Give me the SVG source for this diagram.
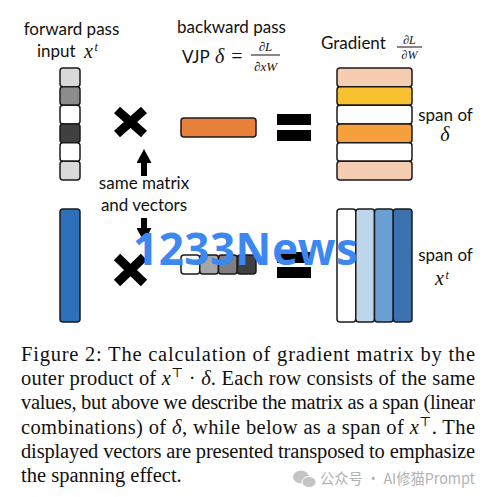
<svg xmlns="http://www.w3.org/2000/svg" width="490" height="497" viewBox="0 0 490 497">
<style>
.lbl{font-family:Lato,"Liberation Sans",sans-serif;font-size:17px;fill:#111}
.math{font-family:"Liberation Serif","DejaVu Serif",serif;font-style:italic;fill:#111}
.cell{stroke:#1a1a1a;stroke-width:1.5}
.cap{font-family:"Liberation Serif","DejaVu Serif",serif;font-size:20.5px;fill:#111}
.bar{fill:#000}
.arr{stroke:#000;stroke-width:6;fill:none}
</style>
<defs>
<marker id="head" viewBox="0 0 14 15" refX="0" refY="7.5" markerWidth="14" markerHeight="15" markerUnits="userSpaceOnUse" orient="auto">
<path d="M0,0 L14,7.5 L0,15 Z" fill="#000"/>
</marker>
</defs>
<rect width="490" height="497" fill="#fff"/>

<g id="forward-label">
<text class="lbl" x="71.5" y="35" text-anchor="middle">forward pass</text>
<text class="lbl" x="37" y="57">input</text>
<text class="math" x="84" y="57.5" font-size="20">x<tspan dx="1.5" dy="-6.5" font-size="12">t</tspan></text>
</g>

<g id="backward-label">
<text class="lbl" x="231.5" y="33" text-anchor="middle">backward pass</text>
<text class="lbl" x="182" y="62.5">VJP</text>
<text class="math" x="215" y="62.5" font-size="20">δ</text>
<text class="math" x="230" y="62.5" font-size="20" font-style="normal">=</text>
<text class="math" x="265.5" y="51" font-size="13" text-anchor="middle">∂L</text>
<line x1="251" y1="55" x2="280" y2="55" stroke="#111" stroke-width="1"/>
<text class="math" x="265.5" y="71" font-size="13" text-anchor="middle">∂xW</text>
</g>

<g id="gradient-label">
<text class="lbl" x="321" y="49">Gradient</text>
<text class="math" x="409.5" y="43.5" font-size="12" text-anchor="middle">∂L</text>
<line x1="397" y1="47" x2="422" y2="47" stroke="#111" stroke-width="1"/>
<text class="math" x="409.5" y="58.5" font-size="12" text-anchor="middle">∂W</text>
</g>

<g id="x-vector-top">
<rect class="cell" x="60" y="68" width="20" height="18.67" rx="3" fill="#d9d9d9"/>
<rect class="cell" x="60" y="86.67" width="20" height="18.67" rx="3" fill="#8c8c8c"/>
<rect class="cell" x="60" y="105.33" width="20" height="18.67" rx="3" fill="#ffffff"/>
<rect class="cell" x="60" y="124" width="20" height="18.67" rx="3" fill="#404040"/>
<rect class="cell" x="60" y="142.67" width="20" height="18.67" rx="3" fill="#ffffff"/>
<rect class="cell" x="60" y="161.33" width="20" height="18.67" rx="3" fill="#d9d9d9"/>
</g>

<g id="times-top">
<path d="M117,110 L144,134 M144,110 L117,134" stroke="#000" stroke-width="9"/>
</g>

<g id="delta-vector-top">
<rect class="cell" x="181" y="118" width="75" height="19" rx="3" fill="#e7813c"/>
</g>

<g id="equals-top">
<rect class="bar" x="277" y="114" width="34" height="11"/>
<rect class="bar" x="277" y="130" width="34" height="11"/>
</g>

<g id="gradient-rows">
<rect class="cell" x="337" y="68" width="75" height="18.67" rx="3" fill="#f5cdb1"/>
<rect class="cell" x="337" y="86.67" width="75" height="18.67" rx="3" fill="#f8c12f"/>
<rect class="cell" x="337" y="105.33" width="75" height="18.67" rx="3" fill="#ffffff"/>
<rect class="cell" x="337" y="124" width="75" height="18.67" rx="3" fill="#f6a03d"/>
<rect class="cell" x="337" y="142.67" width="75" height="18.67" rx="3" fill="#ffffff"/>
<rect class="cell" x="337" y="161.33" width="75" height="18.67" rx="3" fill="#f5cdb1"/>
</g>

<g id="span-delta-label">
<text class="lbl" x="445.5" y="121" text-anchor="middle">span of</text>
<text class="math" x="445" y="141" font-size="20" text-anchor="middle">δ</text>
</g>

<g id="same-label">
<text class="lbl" x="144" y="189" text-anchor="middle">same matrix</text>
<text class="lbl" x="144" y="211" text-anchor="middle">and vectors</text>
</g>

<g id="x-vector-bottom">
<rect class="cell" x="60" y="209" width="20" height="113" rx="3" fill="#2d6fb9"/>
</g>

<g id="times-bottom">
<path d="M117,257 L144,283 M144,257 L117,283" stroke="#000" stroke-width="9"/>
</g>

<g id="delta-vector-bottom">
<rect class="cell" x="181" y="255" width="18.75" height="19" rx="3" fill="#ffffff"/>
<rect class="cell" x="199.75" y="255" width="18.75" height="19" rx="3" fill="#a6a6a6"/>
<rect class="cell" x="218.5" y="255" width="18.75" height="19" rx="3" fill="#7f7f7f"/>
<rect class="cell" x="237.25" y="255" width="18.75" height="19" rx="3" fill="#404040"/>
</g>

<g id="equals-bottom">
<rect class="bar" x="277" y="252" width="34" height="11"/>
<rect class="bar" x="277" y="267" width="34" height="11"/>
</g>

<g id="gradient-columns">
<rect class="cell" x="337" y="209" width="18.75" height="113" rx="3" fill="#ffffff"/>
<rect class="cell" x="355.75" y="209" width="18.75" height="113" rx="3" fill="#bdd6ec"/>
<rect class="cell" x="374.5" y="209" width="18.75" height="113" rx="3" fill="#6a9fd4"/>
<rect class="cell" x="393.25" y="209" width="18.75" height="113" rx="3" fill="#3a71ae"/>
</g>

<g id="span-x-label">
<text class="lbl" x="445.5" y="260.5" text-anchor="middle">span of</text>
<text class="math" x="435" y="285" font-size="20">x<tspan dx="1.5" dy="-6.5" font-size="12">t</tspan></text>
</g>

<g id="connectors">
<line class="arr" x1="144" y1="176" x2="144" y2="163" marker-end="url(#head)"/>
<line class="arr" x1="144" y1="218" x2="144" y2="228" marker-end="url(#head)"/>
</g>

<text x="133" y="265" font-family="'Noto Sans',sans-serif" font-weight="bold" font-size="44" fill="#3d87f2" textLength="225" lengthAdjust="spacing">1233News</text>

<g id="caption">
<text class="cap" x="21" y="361" textLength="454" lengthAdjust="spacing">Figure 2: The calculation of gradient matrix by the</text>
<text class="cap" x="21" y="385" textLength="454" lengthAdjust="spacing">outer product of <tspan font-style="italic">x</tspan><tspan dy="-8" font-size="13">⊤</tspan><tspan dy="8"> · </tspan><tspan font-style="italic">δ</tspan>. Each row consists of the same</text>
<text class="cap" x="21" y="409" textLength="454" lengthAdjust="spacing">values, but above we describe the matrix as a span (linear</text>
<text class="cap" x="21" y="434" textLength="454" lengthAdjust="spacing">combinations) of <tspan font-style="italic">δ</tspan>, while below as a span of <tspan font-style="italic">x</tspan><tspan dy="-8" font-size="13">⊤</tspan><tspan dy="8">. The</tspan></text>
<text class="cap" x="21" y="458" textLength="454" lengthAdjust="spacing">displayed vectors are presented transposed to emphasize</text>
<text class="cap" x="21" y="482">the spanning effect.</text>
</g>

<g id="watermark">
<ellipse cx="301" cy="477" rx="8" ry="6.5" fill="#c4c4c4"/>
<ellipse cx="309" cy="482" rx="7" ry="5.5" fill="#c4c4c4" stroke="#fff" stroke-width="1"/>
<text x="320" y="484" font-family="'Noto Sans CJK SC','Noto Sans',sans-serif" font-size="15" fill="#b3b3b3" textLength="155" lengthAdjust="spacingAndGlyphs">公众号 · AI修猫Prompt</text>
</g>
</svg>
